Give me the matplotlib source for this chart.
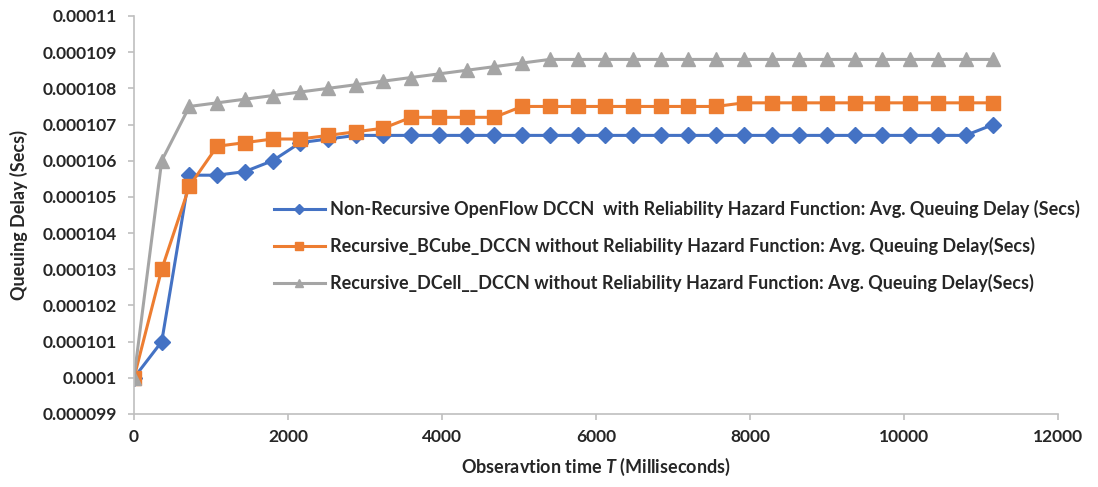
import numpy as np
import matplotlib
matplotlib.use('Agg')
import matplotlib.pyplot as plt

# Data (values in units of 1e-6 s)
time_ms = [0, 360, 720, 1080, 1440, 1800, 2160, 2520, 2880, 3240, 3600, 3960,
           4320, 4680, 5040, 5400, 5760, 6120, 6480, 6840, 7200, 7560, 7920,
           8280, 8640, 9000, 9360, 9720, 10080, 10440, 10800, 11160]

non_recursive = [100.0, 101.0, 105.6, 105.6, 105.7, 106.0, 106.5, 106.6, 106.7,
                 106.7, 106.7, 106.7, 106.7, 106.7, 106.7, 106.7, 106.7, 106.7,
                 106.7, 106.7, 106.7, 106.7, 106.7, 106.7, 106.7, 106.7, 106.7,
                 106.7, 106.7, 106.7, 106.7, 107.0]

bcube = [100.0, 103.0, 105.3, 106.4, 106.5, 106.6, 106.6, 106.7, 106.8, 106.9,
         107.2, 107.2, 107.2, 107.2, 107.5, 107.5, 107.5, 107.5, 107.5, 107.5,
         107.5, 107.5, 107.6, 107.6, 107.6, 107.6, 107.6, 107.6, 107.6, 107.6,
         107.6, 107.6]

dcell = [100.0, 106.0, 107.5, 107.6, 107.7, 107.8, 107.9, 108.0, 108.1, 108.2,
         108.3, 108.4, 108.5, 108.6, 108.7, 108.8, 108.8, 108.8, 108.8, 108.8,
         108.8, 108.8, 108.8, 108.8, 108.8, 108.8, 108.8, 108.8, 108.8, 108.8,
         108.8, 108.8]

labels = ['Non-Recursive OpenFlow DCCN  with Reliability Hazard Function: Avg. Queuing Delay (Secs)',
          'Recursive_BCube_DCCN without Reliability Hazard Function: Avg. Queuing Delay(Secs)',
          'Recursive_DCell__DCCN without Reliability Hazard Function: Avg. Queuing Delay(Secs)']

y_ticks = [0.000099, 0.0001, 0.000101, 0.000102, 0.000103, 0.000104, 0.000105,
           0.000106, 0.000107, 0.000108, 0.000109, 0.00011]
y_tick_labels = ['0.000099', '0.0001', '0.000101', '0.000102', '0.000103', '0.000104',
                 '0.000105', '0.000106', '0.000107', '0.000108', '0.000109', '0.00011']

plt.rcParams['font.family'] = ['Lato', 'DejaVu Sans']
plt.rcParams['font.weight'] = 'bold'
plt.rcParams['mathtext.fontset'] = 'custom'
plt.rcParams['mathtext.it'] = 'Lato:italic:bold'

fig = plt.figure(figsize=(10.98, 4.87), dpi=100)
ax = fig.add_axes([134 / 1098, 1 - 414 / 487, (1058 - 134) / 1098, (414 - 16) / 487])

scale = 1e-6
ax.plot(time_ms, np.array(non_recursive) * scale, color='#4472C4', lw=2.2,
        marker='D', markersize=8, label=labels[0])
ax.plot(time_ms, np.array(bcube) * scale, color='#ED7D31', lw=2.2,
        marker='s', markersize=10, label=labels[1])
ax.plot(time_ms, np.array(dcell) * scale, color='#A5A5A5', lw=2.2,
        marker='^', markersize=10, label=labels[2])

ax.set_xlim(0, 12000)
ax.set_ylim(0.000099, 0.00011)
ax.set_xticks(range(0, 12001, 2000))
ax.set_yticks(y_ticks)
ax.set_yticklabels(y_tick_labels)

for side in ['top', 'right']:
    ax.spines[side].set_visible(False)
for side in ['left', 'bottom']:
    ax.spines[side].set_color('#BFBFBF')
    ax.spines[side].set_linewidth(1.2)
ax.tick_params(axis='both', colors='#BFBFBF', length=4, width=1.2,
               labelcolor='#262626', labelsize=12.5)
ax.tick_params(axis='x', pad=7)
ax.tick_params(axis='y', pad=8)

ax.set_xlabel('Obseravtion time $T$ (Milliseconds)', fontsize=13, fontweight='bold',
              color='#262626', labelpad=8)
ax.set_ylabel('Queuing Delay (Secs)', fontsize=13, fontweight='bold', color='#262626',
              labelpad=11)

leg = ax.legend(loc='upper left', bbox_to_anchor=(0.134, 0.578), frameon=False,
                fontsize=13, markerscale=0.6, handlelength=2.8, labelspacing=1.05,
                handletextpad=0.3)
for t in leg.get_texts():
    t.set_color('#262626')

fig.savefig('out.png', dpi=100)
